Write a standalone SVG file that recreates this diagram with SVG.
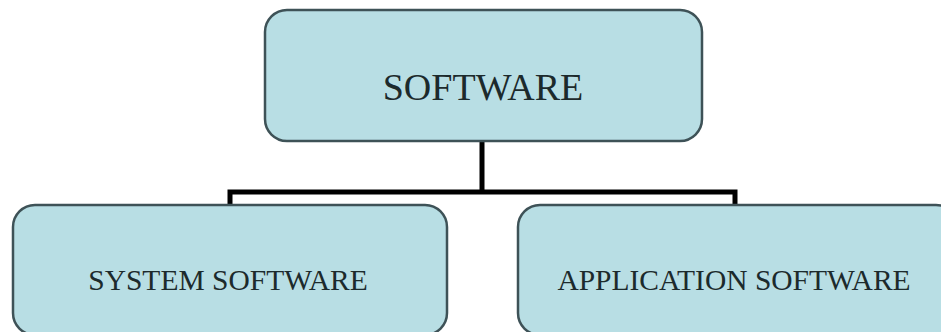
<svg xmlns="http://www.w3.org/2000/svg" width="941" height="332" viewBox="0 0 941 332">
<style>
.box{fill:#b8dee4;stroke:#3e5257;stroke-width:2.5}
.lbl{font-family:"Liberation Serif","Times New Roman",serif;fill:#1c2a2c;text-anchor:middle}
.conn{fill:none;stroke:#000;stroke-width:5}
</style>
<rect width="941" height="332" fill="#ffffff"/>
<g id="connectors">
<path class="conn" d="M482 141 V192 M230 206 V192 H735 V206"/>
</g>
<g id="software">
<rect class="box" x="265" y="10" width="437" height="131" rx="22"/>
<text class="lbl" x="483" y="100" font-size="38">SOFTWARE</text>
</g>
<g id="system-software">
<rect class="box" x="13" y="205" width="434" height="130" rx="22"/>
<text class="lbl" x="228" y="290" font-size="29.5">SYSTEM SOFTWARE</text>
</g>
<g id="application-software">
<rect class="box" x="518" y="205" width="440" height="130" rx="22"/>
<text class="lbl" x="734" y="290" font-size="29.5">APPLICATION SOFTWARE</text>
</g>
</svg>
